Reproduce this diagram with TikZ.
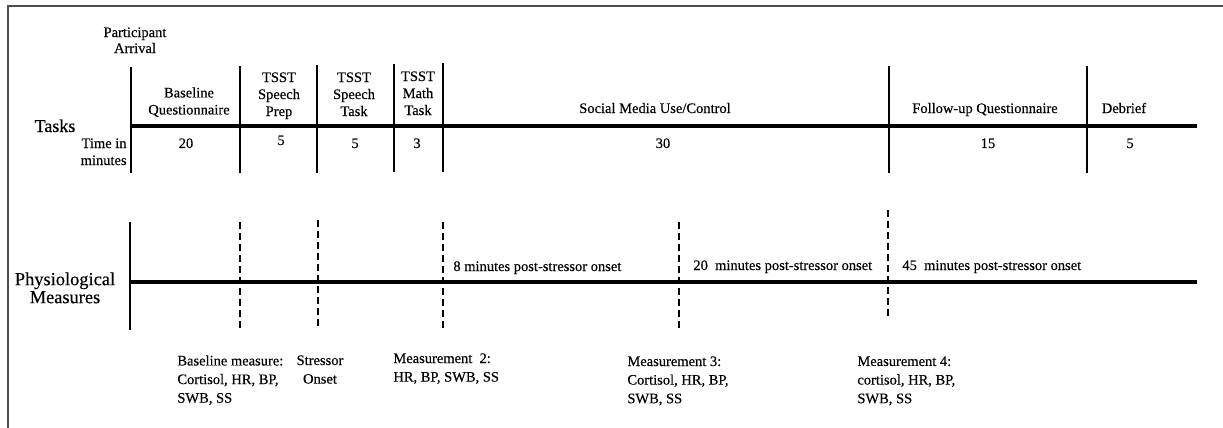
\documentclass[tikz,border=0pt]{standalone}
\usepackage{fontspec}
\setmainfont[FakeBold=0.3]{Liberation Serif}
\begin{document}
\begin{tikzpicture}[x=0.5pt,y=-0.5pt,
  frame/.style={draw=black!70,line width=1pt},
  axis/.style={draw=black,line width=2.2pt},
  tick/.style={draw=black,line width=1.4pt},
  dtick/.style={draw=black,line width=1.2pt,dash pattern=on 3.5pt off 2pt},
  lbl/.style={inner sep=0pt,font=\fontsize{7.25}{8.5}\selectfont},
  mlbl/.style={inner sep=0pt,align=left,font=\fontsize{7.25}{9.3}\selectfont},
  big/.style={inner sep=0pt,align=center,font=\fontsize{9.2}{9}\selectfont}]
\useasboundingbox (0,0) rectangle (1223,428);
% frame
\coordinate (fTL) at (8,6);
\coordinate (fTR) at (1223,6);
\coordinate (fBL) at (8,428);
\draw[frame] (fTR) -- (fTL) -- (fBL);
% task axis
\coordinate (tA) at (130,126);
\coordinate (tB) at (1197,126);
\draw[axis] (tA) -- (tB);
\foreach \n/\x/\a/\b in {t1/131/67/173, t2/240/66/173, t3/317/65/173, t4/394/64/172, t5/443/63/172, t6/889/66/173, t7/1087/66/173}{
  \coordinate (\n top) at (\x,\a);
  \coordinate (\n bot) at (\x,\b);
  \draw[tick] (\n top) -- (\n bot);
}
% physiological axis
\coordinate (pA) at (130,282);
\coordinate (pB) at (1197,282);
\draw[axis] (pA) -- (pB);
\coordinate (p0top) at (130,222);
\coordinate (p0bot) at (130,330);
\draw[tick] (p0top) -- (p0bot);
\foreach \n/\x/\a/\b in {p1/240/222/330, p2/318/220/328, p3/443/222/328, p4/679/222/328, p5/888/210/317}{
  \coordinate (\n top) at (\x,\a);
  \coordinate (\n bot) at (\x,\b);
  \draw[dtick] (\n top) -- (\n bot);
}
% task labels
\node[lbl,align=center,anchor=north,font=\fontsize{7.25}{8}\selectfont] (arrival) at (135,27) {Participant\\Arrival};
\node[lbl,align=center,anchor=north] (baseq) at (189,87) {Baseline\\Questionnaire};
\node[lbl,align=center,anchor=north] (prep) at (279,72) {TSST\\Speech\\Prep};
\node[lbl,align=center,anchor=north] (stask) at (354,72) {TSST\\Speech\\Task};
\node[lbl,align=center,anchor=north] (math) at (418,71) {TSST\\Math\\Task};
\node[lbl,anchor=base] (social) at (655,113) {Social Media Use/Control};
\node[lbl,anchor=base] (follow) at (985,113) {Follow-up Questionnaire};
\node[lbl,anchor=base] (debrief) at (1124,113) {Debrief};
\node[big,anchor=base,font=\fontsize{9}{9}\selectfont] (tasks) at (55,132) {Tasks};
\node[lbl,align=right,anchor=north east] (timein) at (127,138) {Time in\\minutes};
\node[lbl,anchor=base] (n1) at (186,148) {20};
\node[lbl,anchor=base] (n2) at (281,145) {5};
\node[lbl,anchor=base] (n3) at (355,148) {5};
\node[lbl,anchor=base] (n4) at (417,148) {3};
\node[lbl,anchor=base] (n5) at (663,148) {30};
\node[lbl,anchor=base] (n6) at (988,148) {15};
\node[lbl,anchor=base] (n7) at (1130,148) {5};
% physiological labels
\node[big,anchor=north] (phys) at (65,272) {Physiological\\Measures};
\node[lbl,anchor=base west] (t8) at (453,271) {8 minutes post-stressor onset};
\node[lbl,anchor=base west] (t20) at (693,270) {20\ \ minutes post-stressor onset};
\node[lbl,anchor=base west] (t45) at (902,270) {45\ \ minutes post-stressor onset};
\node[mlbl,anchor=north west] (m1) at (177,355) {Baseline measure:\\Cortisol, HR, BP,\\SWB, SS};
\node[mlbl,align=center,anchor=north] (stress) at (320,355) {Stressor\\Onset};
\node[mlbl,anchor=north west] (m2) at (393,353) {Measurement\ \ 2:\\HR, BP, SWB, SS};
\node[mlbl,anchor=north west] (m3) at (627,356) {Measurement 3:\\Cortisol, HR, BP,\\SWB, SS};
\node[mlbl,anchor=north west] (m4) at (857,356) {Measurement 4:\\cortisol, HR, BP,\\SWB, SS};
\end{tikzpicture}
\end{document}
